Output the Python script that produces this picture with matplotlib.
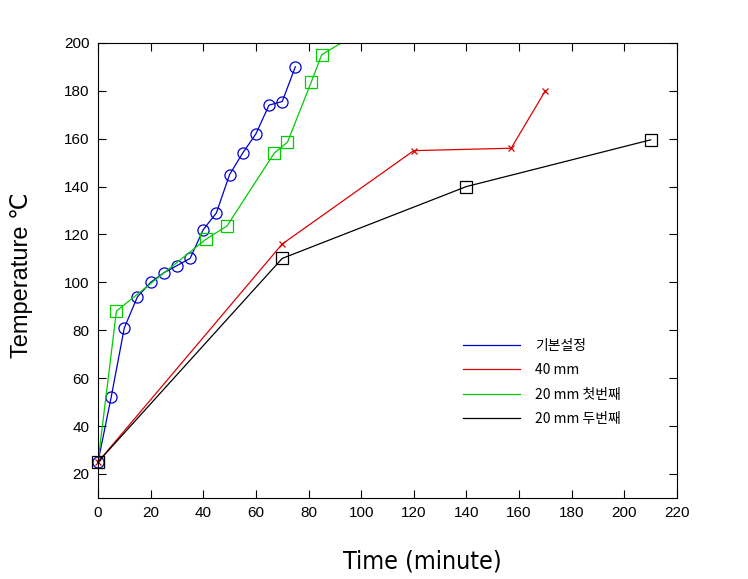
import matplotlib
matplotlib.use("Agg")
import matplotlib.pyplot as plt

# 기본설정 (blue circles)
t_base = [0, 5, 10, 15, 20, 25, 30, 35, 40, 45, 50, 55, 60, 65, 70, 75]
T_base = [25, 52, 81, 94, 100, 104, 107, 110, 122, 129, 145, 154, 162, 174, 175.5, 190]

# 40 mm (red x)
t_40 = [0, 70, 120, 157, 170]
T_40 = [25, 116, 155, 156, 180]

# 20 mm 첫번째 (green squares), last point runs off the top
t_20a = [0, 7, 41, 49, 67, 72, 81, 85, 100]
T_20a = [25, 88, 118, 123.5, 154, 158.5, 183.5, 195, 205]

# 20 mm 두번째 (black squares)
t_20b = [0, 70, 140, 210]
T_20b = [25, 110, 140, 159.5]

labels = ['기본설정', '40 mm', '20 mm 첫번째', '20 mm 두번째']

fig = plt.figure(figsize=(7.48, 5.79), dpi=100)
ax = fig.add_axes([0.131, 0.140, 0.774, 0.786])

ax.plot(t_base, T_base, color='#0000cc', lw=0.9, marker='o', ms=8,
        mfc='none', mew=0.9, clip_on=False, label=labels[0])
ax.plot(t_40, T_40, color='#dd0000', lw=0.9, marker='x', ms=5,
        mew=0.9, clip_on=False, label=labels[1])
ax.plot(t_20a, T_20a, color='#00cc00', lw=0.9, marker='s', ms=8,
        mfc='none', mew=0.9, label=labels[2])
ax.plot(t_20b, T_20b, color='black', lw=0.9, marker='s', ms=8,
        mfc='none', mew=0.9, clip_on=False, label=labels[3])

ax.set_xlim(0, 220)
ax.set_ylim(10, 200)
ax.set_xticks(range(0, 221, 20))
ax.set_yticks(range(20, 201, 20))
ax.tick_params(direction='in', top=True, right=True, length=6, width=0.8,
               labelsize=11, pad=6)
for lab in ax.get_xticklabels() + ax.get_yticklabels():
    lab.set_family(['Liberation Sans', 'DejaVu Sans'])
    lab.set_stretch('condensed')
for s in ax.spines.values():
    s.set_linewidth(0.8)

ax.set_xlabel('Time (minute)', fontsize=18, family='DejaVu Sans',
              fontstretch='condensed')
ax.xaxis.set_label_coords(0.561, -0.113)
ax.set_ylabel('Temperature ℃', fontsize=17,
              family=['Liberation Sans', 'DejaVu Sans'])
ax.yaxis.set_label_coords(-0.112, 0.49)

leg = ax.legend(loc='center left', bbox_to_anchor=(0.63, 0.254), frameon=False,
                borderpad=0, borderaxespad=0, handlelength=4.1,
                handletextpad=1.1, labelspacing=0.75,
                prop={'family': ['Noto Sans CJK KR', 'DejaVu Sans'], 'size': 10})
for h in leg.legend_handles:
    h.set_marker('')

fig.savefig('out.png', dpi=100)
